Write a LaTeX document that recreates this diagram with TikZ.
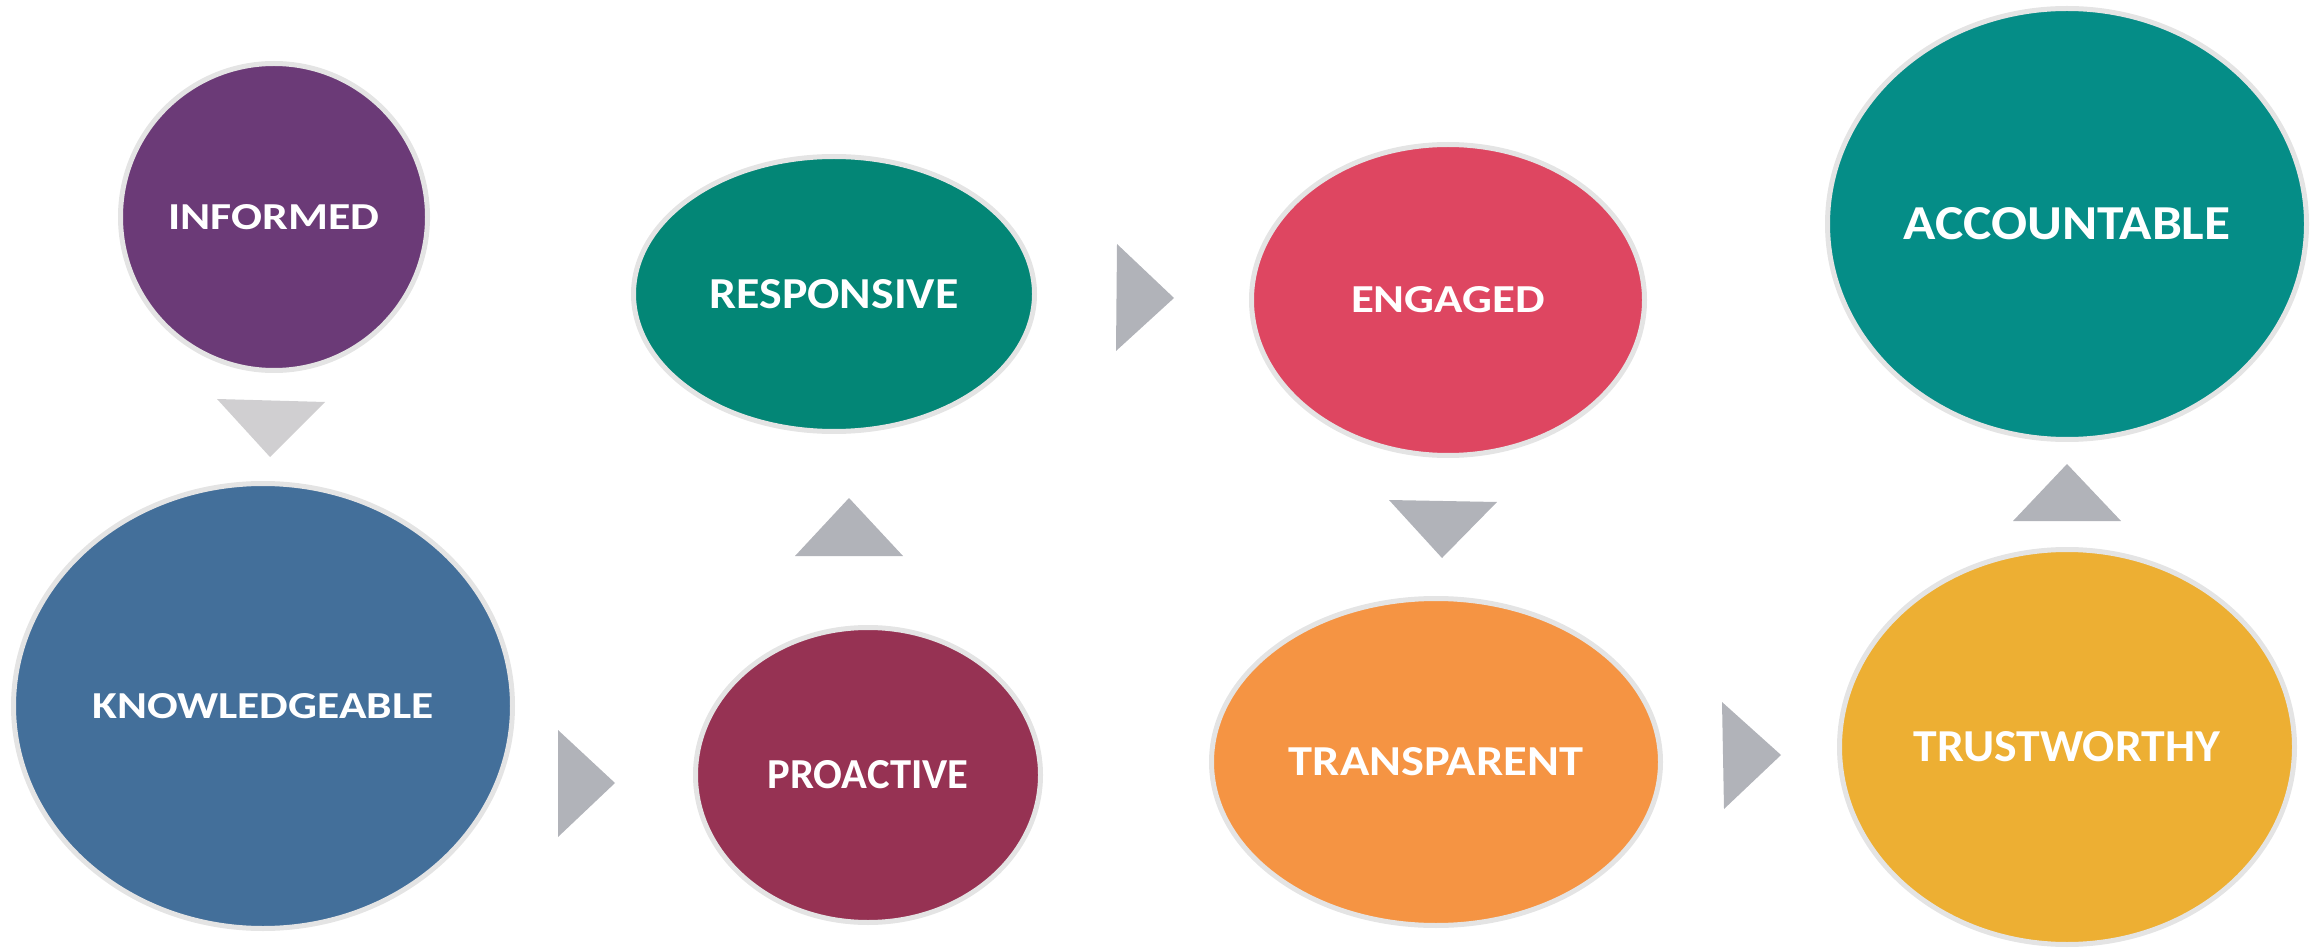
\documentclass[tikz,border=0pt]{standalone}
\usepackage{fontspec}
\setmainfont{Carlito}
\usetikzlibrary{shapes.geometric}

\definecolor{cInformed}{HTML}{6B3A77}
\definecolor{cKnow}{HTML}{436F9A}
\definecolor{cResp}{HTML}{038676}
\definecolor{cProact}{HTML}{963253}
\definecolor{cEngaged}{HTML}{DE4661}
\definecolor{cTransp}{HTML}{F59443}
\definecolor{cAccount}{HTML}{058D87}
\definecolor{cTrust}{HTML}{EDAF33}
\definecolor{rimgray}{HTML}{E4E4E4}
\definecolor{tri}{HTML}{B1B3B9}
\definecolor{trilight}{HTML}{D0CFD1}

% a label of given ink width and cap height
\newcommand{\caplabel}[3]{\resizebox{#1pt}{#2pt}{\bfseries #3}}

\tikzset{
  bubble/.style={ellipse, draw=rimgray, line width=5pt, inner sep=0pt,
                 text=white, font=\bfseries},
  arrowtri/.style={fill=tri, draw=none},
  arrowtrilight/.style={fill=trilight, draw=none},
}

\begin{document}
\begin{tikzpicture}[x=1pt, y=-1pt]
  \useasboundingbox (0,0) rectangle (2316,949);

  % the eight qualities
  \node[bubble, fill=cInformed, minimum width=307pt, minimum height=307pt]
    (informed) at (274,217) {\caplabel{211}{25}{INFORMED}};
  \node[bubble, fill=cKnow, minimum width=499pt, minimum height=445pt]
    (know) at (263,706) {\caplabel{341}{25}{KNOWLEDGEABLE}};
  \node[bubble, fill=cResp, minimum width=401pt, minimum height=275pt]
    (resp) at (834,294) {\caplabel{249}{29}{RESPONSIVE}};
  \node[bubble, fill=cProact, minimum width=345pt, minimum height=295pt]
    (proact) at (868,775) {\caplabel{201}{28}{PROACTIVE}};
  \node[bubble, fill=cEngaged, minimum width=393pt, minimum height=311pt]
    (engaged) at (1448,300) {\caplabel{194}{26}{ENGAGED}};
  \node[bubble, fill=cTransp, minimum width=449pt, minimum height=327pt]
    (transp) at (1436,762) {\caplabel{294}{28}{TRANSPARENT}};
  \node[bubble, fill=cAccount, minimum width=479pt, minimum height=431pt]
    (account) at (2067,224) {\caplabel{327}{32}{ACCOUNTABLE}};
  \node[bubble, fill=cTrust, minimum width=455pt, minimum height=395pt]
    (trust) at (2067,747) {\caplabel{306}{30}{TRUSTWORTHY}};

  % triangular pointers between the stages
  \fill[arrowtrilight] (217,399) -- (325,402) -- (270,457) -- cycle;
  \fill[arrowtri] (558,730) -- (615,783) -- (558,837) -- cycle;
  \fill[arrowtri] (795,556) -- (849,498) -- (903,556) -- cycle;
  \fill[arrowtri] (1117,244) -- (1174,298) -- (1116,351) -- cycle;
  \fill[arrowtri] (1389,500) -- (1497,502) -- (1442,558) -- cycle;
  \fill[arrowtri] (1722,702) -- (1781,755) -- (1724,809) -- cycle;
  \fill[arrowtri] (2013,521) -- (2067,464) -- (2121,521) -- cycle;
\end{tikzpicture}
\end{document}
